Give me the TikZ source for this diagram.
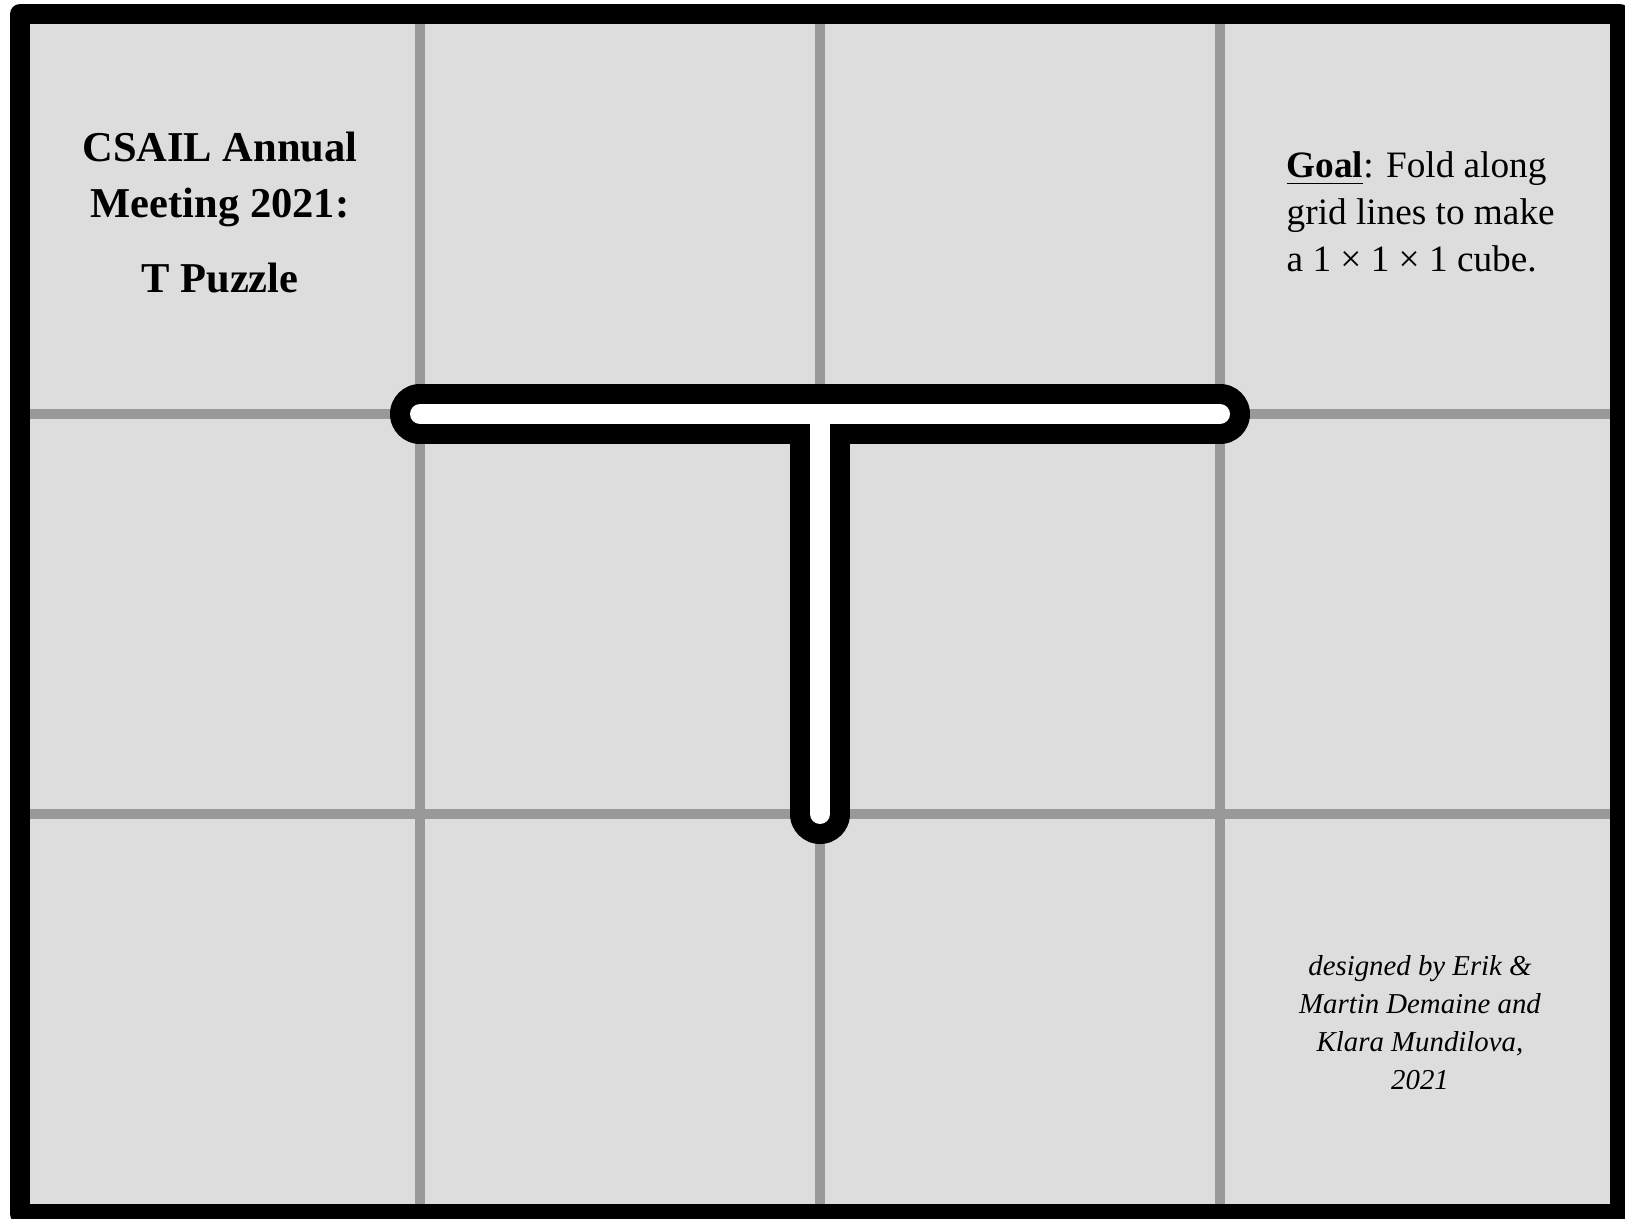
\documentclass[tikz,border=0pt]{standalone}
\usepackage{fontspec}
\setmainfont{Liberation Serif}
\usepackage{tikz}

\definecolor{sheet}{HTML}{DDDDDD}
\definecolor{crease}{HTML}{999999}

\tikzset{
  titletext/.style={font=\fontsize{12.1}{14}\selectfont\bfseries, anchor=base, inner sep=0pt},
  goaltext/.style={font=\fontsize{10.6}{13}\selectfont, anchor=base west, inner sep=0pt},
  credittext/.style={font=\fontsize{8.2}{10}\selectfont\itshape, anchor=base, inner sep=0pt},
}

\begin{document}
\begin{tikzpicture}[x=4cm, y=4cm]

  \useasboundingbox (-0.05,-0.01) rectangle (4.0125,3.035);

  % ── paper and grid lines ────────────────────────────────────────────────
  \fill[sheet] (0,0) rectangle (4,3);
  \foreach \i in {1,2,3}{
    \draw[crease, line width=0.1cm] (\i,0) -- (\i,3);
  }
  \foreach \j in {1,2}{
    \draw[crease, line width=0.1cm] (0,\j) -- (4,\j);
  }
  \draw[black, line width=0.2cm, line join=round] (0,0) rectangle (4,3);

  % ── the T cut ───────────────────────────────────────────────────────────
  \draw[black, line width=0.6cm, line cap=round] (1,2) -- (3,2) (2,2) -- (2,1);
  \draw[white, line width=0.2cm, line cap=round] (1,2) -- (3,2) (2,2) -- (2,1);

  % ── title ───────────────────────────────────────────────────────────────
  \node[titletext] (title1) at (0.5,2.63)   {CSAIL Annual};
  \node[titletext] (title2) at (0.5,2.49)   {Meeting 2021:};
  \node[titletext] (title3) at (0.5,2.3025) {T Puzzle};

  % ── goal ────────────────────────────────────────────────────────────────
  \node[goaltext] (goal1) at (3.165,2.59)  {\underline{\textbf{Goal}}: Fold along};
  \node[goaltext] (goal2) at (3.165,2.4725) {grid lines to make};
  \node[goaltext] (goal3) at (3.165,2.355)   {a 1 × 1 × 1 cube.};

  % ── credits ─────────────────────────────────────────────────────────────
  \node[credittext] (credit1) at (3.5,0.595) {designed by Erik \&};
  \node[credittext] (credit2) at (3.5,0.5)   {Martin Demaine and};
  \node[credittext] (credit3) at (3.5,0.405) {Klara Mundilova,};
  \node[credittext] (credit4) at (3.5,0.31)  {2021};

\end{tikzpicture}
\end{document}
